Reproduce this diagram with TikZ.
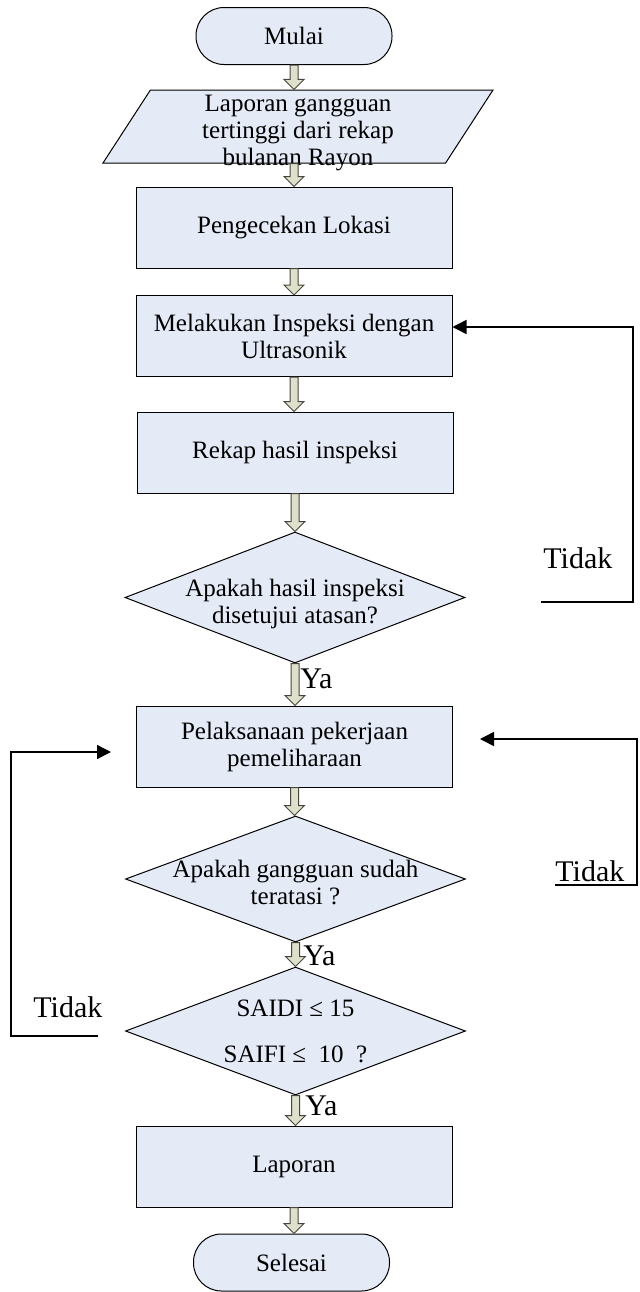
\documentclass[tikz,border=0pt]{standalone}
\usepackage{fontspec}
\setmainfont{Liberation Serif}
\usepackage{tikz}
\usetikzlibrary{positioning}
\usetikzlibrary{calc}
\usetikzlibrary{shapes.geometric}
\usetikzlibrary{arrows.meta}
\definecolor{boxfill}{RGB}{228,234,246}
\definecolor{arrfill}{RGB}{222,224,204}
\definecolor{arrline}{RGB}{70,70,60}
\newcommand{\isi}{\fontsize{12.5}{13.5}\selectfont}
\newcommand{\besar}{\fontsize{15}{15}\selectfont}
\tikzset{proses/.style = {draw, fill=boxfill, line width=0.5pt, align=center,
                          minimum width=158pt, minimum height=40.5pt,
                          inner sep=0, font=\isi}}
\tikzset{terminal/.style = {draw, fill=boxfill, line width=0.5pt,
                            rounded corners=14pt, minimum width=98pt,
                            minimum height=28.5pt, inner sep=0, font=\isi}}
\tikzset{masukan/.style = {draw, fill=boxfill, line width=0.5pt, trapezium,
                           trapezium left angle=57, trapezium right angle=123,
                           inner sep=0, font=\isi}}
\tikzset{keputusan/.style = {draw, fill=boxfill, line width=0.5pt, diamond,
                             minimum width=170pt, inner sep=0}}
\tikzset{blok/.style = {draw=arrline, fill=arrfill, line width=0.5pt,
                        to path={let \p1=(\tikztostart), \p2=(\tikztotarget) in
                        (\x1-2pt,\y1) -- (\x1-2pt,\y2+5pt) -- (\x1-5pt,\y2+5pt)
                        -- (\x1,\y2) -- (\x1+5pt,\y2+5pt) -- (\x1+2pt,\y2+5pt)
                        -- (\x1+2pt,\y1) -- cycle}}}
\tikzset{balik/.style = {line width=0.75pt, -{Triangle[length=7pt,width=7pt]}}}
\tikzset{ket/.style = {font=\besar, inner sep=0, anchor=base west}}

\begin{document}
\begin{tikzpicture}[x=0.5pt,y=-0.5pt]
      \useasboundingbox (0,0) rectangle (640,1292);

      % Langkah utama
      \node[terminal] (mulai) at (294,36) {Mulai};
      \node[masukan] (lapor) at (298,126.5)
            {\parbox[c][36.5pt][c]{147.6pt}{\vspace*{7pt}\centering Laporan gangguan\\tertinggi dari rekap\\bulanan Rayon}};
      \node[proses] (cek) at (294,227.5) {Pengecekan Lokasi};
      \node[proses] (inspeksi) at (294,336) {Melakukan Inspeksi dengan\\Ultrasonik};
      \node[proses] (rekap) at (295,452.5) {Rekap hasil inspeksi};
      \node[keputusan, minimum height=65.5pt,
            label={[font=\isi, align=center, yshift=-3pt]center:Apakah hasil inspeksi\\disetujui atasan?}]
            (setuju) at (295,597.5) {};
      \node[proses] (pelaks) at (294.5,746.5) {Pelaksanaan pekerjaan\\pemeliharaan};
      \node[keputusan, minimum height=63pt,
            label={[font=\isi, align=center, yshift=-1.5pt]center:Apakah gangguan sudah\\teratasi ?}]
            (atasi) at (295.5,879) {};
      \node[keputusan, minimum height=64pt,
            label={[font=\isi, align=center]center:SAIDI ≤ 15\\[9.5pt]SAIFI ≤\ \ 10\ \ ?}]
            (saidi) at (295.5,1031) {};
      \node[proses] (laporan) at (294,1166.5) {Laporan};
      \node[terminal] (selesai) at (291.5,1262.5) {Selesai};

      % Panah blok
      \draw[blok] (mulai.south) to (mulai.south |- lapor.north);
      \draw[blok] (cek.north |- lapor.south) to (cek.north);
      \foreach \a/\b in {cek/inspeksi, inspeksi/rekap, rekap/setuju, setuju/pelaks,
                         pelaks/atasi, atasi/saidi, saidi/laporan, laporan/selesai}
        \draw[blok] (\a.south) to (\b.north);

      % Label
      \node[ket] (ya1) at (300,688) {Ya};
      \node[ket] (ya2) at (303,965) {Ya};
      \node[ket] (ya3) at (305,1115) {Ya};
      \node[ket] (tidak1) at (543,568) {Tidak};
      \node[ket] (tidak2) at (555,881) {Tidak};
      \node[ket] (tidak3) at (33,1017) {Tidak};

      % Jalur kembali
      \coordinate (t1) at (541,602);
      \coordinate (t2) at (555,885);
      \coordinate (t3) at (98,1036);
      \coordinate (m2) at ($(pelaks.east)+(27,-7.5)$);
      \coordinate (m3) at ($(pelaks.west)+(-25,5.5)$);
      \draw[balik] (t1) -- (633,602) |- ([yshift=4.5pt]inspeksi.east);
      \draw[balik] (t2) -- (637,885) |- (m2);
      \draw[balik] (t3) -- (11,1036) |- (m3);
    \end{tikzpicture}
\end{document}
